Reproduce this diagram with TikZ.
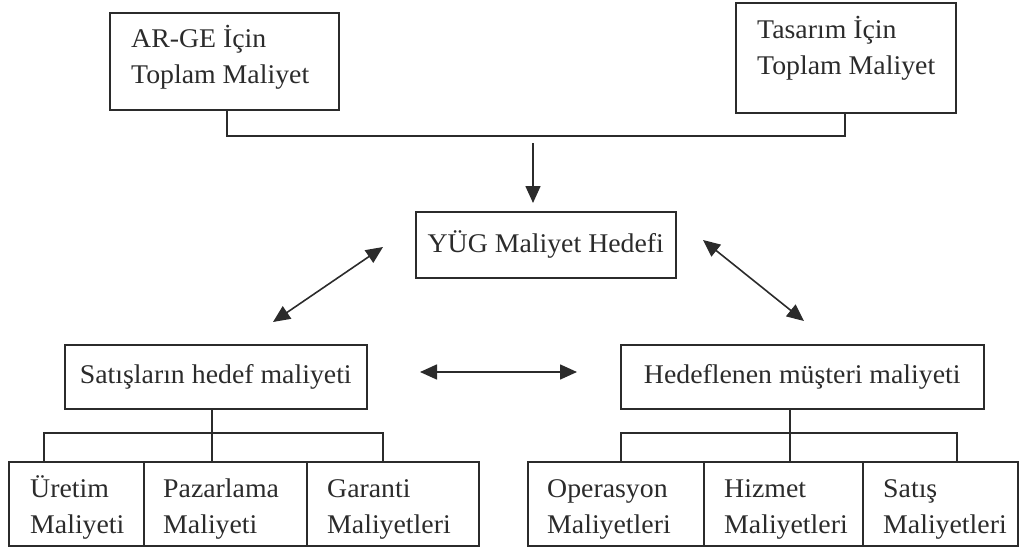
\documentclass[tikz,border=0pt]{standalone}
\usepackage{fontspec}
\setmainfont[FakeStretch=1.03]{Liberation Serif}
\usetikzlibrary{arrows.meta}
\definecolor{ink}{HTML}{2B2B2B}
\begin{document}
\begin{tikzpicture}[x=1pt,y=-1pt,
  every node/.style={text=ink, font=\fontsize{27}{36}\selectfont},
  box/.style={draw=ink, line width=1.5pt, inner sep=0pt, anchor=north west},
  lbl/.style={inner sep=0pt, align=left, anchor=base west},
  wire/.style={draw=ink, line width=1.6pt},
  arr/.style={wire, -{Triangle[length=17pt,width=15pt]}},
  dbl/.style={wire, {Triangle[length=17pt,width=15pt]}-{Triangle[length=17pt,width=15pt]}}]
\useasboundingbox (0,0) rectangle (1020,549);

% top: the two total-cost boxes (label anchors sit on the last line's baseline)
\node[box, minimum width=229pt, minimum height=97pt] (rd) at (109,12) {};
\node[lbl] (rdt) at (131,83) {AR-GE İçin\\Toplam Maliyet};
\node[box, minimum width=220pt, minimum height=110pt] (ts) at (735,2) {};
\node[lbl] (tst) at (757,74) {Tasarım İçin\\Toplam Maliyet};

% central target
\node[box, minimum width=260pt, minimum height=66pt] (yug) at (415,211) {YÜG Maliyet Hedefi};

% second level
\node[box, minimum width=302pt, minimum height=64pt] (sat) at (64,344) {Satışların hedef maliyeti};
\node[box, minimum width=363pt, minimum height=64pt] (hed) at (620,344) {Hedeflenen müşteri maliyeti};

% bottom left row
\node[box, minimum width=135pt, minimum height=84pt] (ur) at (8,461) {};
\node[lbl] (urt) at (30,533) {Üretim\\Maliyeti};
\node[box, minimum width=163pt, minimum height=84pt] (pz) at (143,461) {};
\node[lbl] (pzt) at (163,533) {Pazarlama\\Maliyeti};
\node[box, minimum width=172pt, minimum height=84pt] (gr) at (306,461) {};
\node[lbl] (grt) at (327,533) {Garanti\\Maliyetleri};

% bottom right row
\node[box, minimum width=176pt, minimum height=84pt] (op) at (527,461) {};
\node[lbl] (opt) at (547,533) {Operasyon\\Maliyetleri};
\node[box, minimum width=159pt, minimum height=84pt] (hz) at (703,461) {};
\node[lbl] (hzt) at (724,533) {Hizmet\\Maliyetleri};
\node[box, minimum width=155pt, minimum height=84pt] (st) at (862,461) {};
\node[lbl] (stt) at (883,533) {Satış\\Maliyetleri};

% joining line under the top boxes and arrow to the target
\coordinate (j) at (533,136);
\draw[box, wire] (rd.south -| 227,0) |- (j) -| (ts.south -| 845,0);
\coordinate (a1) at (533,143);
\draw[arr, shorten >=8pt] (a1) -- (a1 |- yug.north);

% two-way links
\coordinate (dl1) at (273,322);
\coordinate (dl2) at (383,247);
\draw[dbl] (dl1) -- (dl2);
\coordinate (dr1) at (703,240);
\coordinate (dr2) at (804,321);
\draw[dbl] (dr1) -- (dr2);
\coordinate (h1) at (420,372);
\coordinate (h2) at (577,372);
\draw[dbl] (h1) -- (h2);

% tree under the sales target
\coordinate (l1) at (44,433);
\coordinate (l2) at (212,433);
\coordinate (l3) at (383,433);
\draw[wire, line width=1.5pt] (l2 |- sat.south) -- (l2);
\draw[wire, line width=1.5pt] (ur.north -| l1) |- (l3) -- (l3 |- gr.north);
\draw[wire, line width=1.5pt] (l2) -- (l2 |- pz.north);

% tree under the customer target
\coordinate (r1) at (621,433);
\coordinate (r2) at (790,433);
\coordinate (r3) at (957,433);
\draw[wire, line width=1.5pt] (r2 |- hed.south) -- (r2);
\draw[wire, line width=1.5pt] (op.north -| r1) |- (r3) -- (r3 |- st.north);
\draw[wire, line width=1.5pt] (r2) -- (r2 |- hz.north);
\end{tikzpicture}
\end{document}
